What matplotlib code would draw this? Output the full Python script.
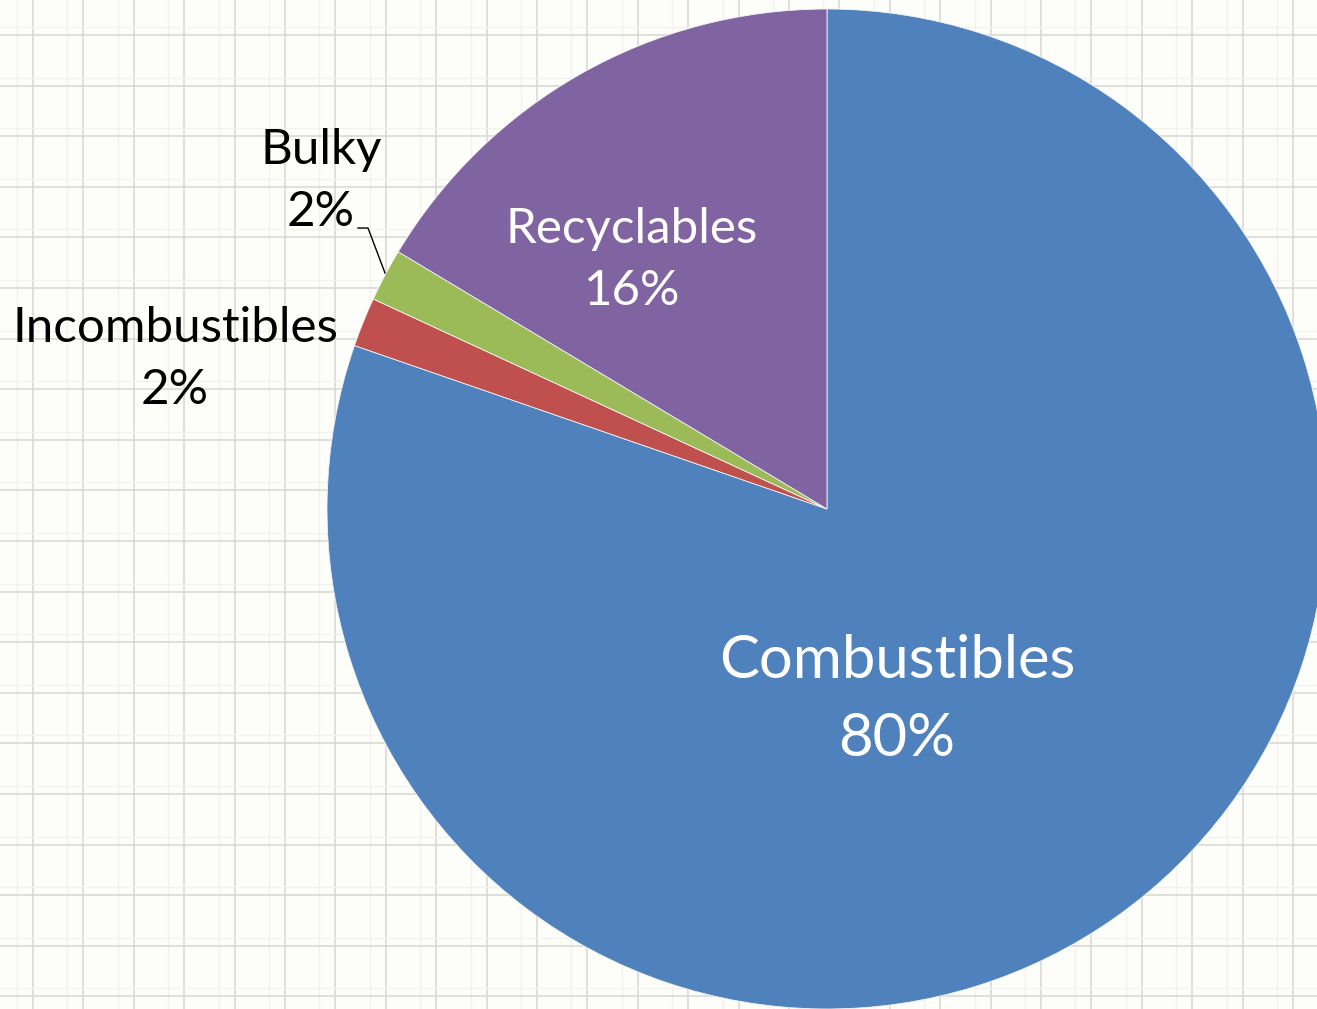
import numpy as np
import matplotlib.pyplot as plt

# waste composition
categories = ['Combustibles', 'Incombustibles', 'Bulky', 'Recyclables']
shares = [80.3, 1.6, 1.7, 16.4]
pct_labels = ['80%', '2%', '2%', '16%']
colors = ['#4F81BD', '#C0504D', '#9BBB59', '#8064A2']

W, H = 1317, 1009
fig = plt.figure(figsize=(W / 100, H / 100), dpi=100)
fig.patch.set_facecolor('#FDFDFA')

# background grid (spreadsheet look)
bg = fig.add_axes([0, 0, 1, 1])
bg.set_xlim(0, W)
bg.set_ylim(H, 0)
bg.axis('off')
for x in np.arange(33, W, 50.4):
    bg.axvline(x, color='#D9D9D5', lw=1.2, zorder=0)
    bg.axvline(x - 16, color='#F1F1EE', lw=0.9, zorder=0)
for y in np.arange(35, H, 50.6):
    bg.axhline(y, color='#D9D9D5', lw=1.2, zorder=0)
    bg.axhline(y - 8, color='#F1F1EE', lw=0.9, zorder=0)

# pie in pixel coordinates (y up)
ax = fig.add_axes([0, 0, 1, 1])
ax.patch.set_alpha(0)
cx, cy, r = 827, H - 509, 500
wedges, _ = ax.pie(shares, colors=colors, startangle=90, counterclock=False,
                   radius=r, center=(cx, cy),
                   wedgeprops=dict(edgecolor='#F4F4F4', linewidth=0.6))
ax.set_xlim(0, W)
ax.set_ylim(0, H)
ax.set_aspect('equal', adjustable='box')
ax.axis('off')

font = 'Lato'
ax.text(897, H - 700, categories[0] + '\n' + pct_labels[0], color='white',
        fontsize=43, family=font, ha='center', va='center', linespacing=1.54)
ax.text(632, H - 260, categories[3] + '\n' + pct_labels[3], color='white',
        fontsize=35.5, family=font, ha='center', va='center', linespacing=1.49)
ax.text(321, H - 181, categories[2] + '\n' + pct_labels[2], color='black',
        fontsize=35.5, family=font, ha='center', va='center', linespacing=1.49)
ax.text(175, H - 359, categories[1] + '\n' + pct_labels[1], color='black',
        fontsize=35.5, family=font, ha='center', va='center', linespacing=1.49)

# leader line for Bulky
ax.plot([358, 368, 385], [H - 228, H - 228, H - 273], color='black', lw=1.0)

fig.savefig('out.png', dpi=100, facecolor=fig.get_facecolor())
